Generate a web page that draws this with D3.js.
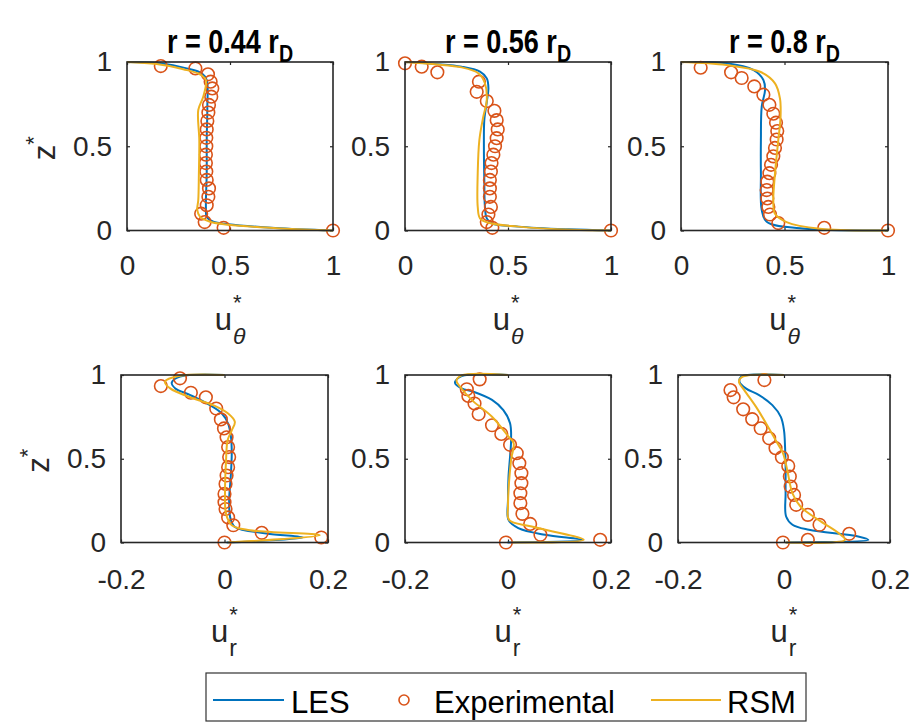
<!DOCTYPE html>
<html><head><meta charset="utf-8">
<script src="https://cdn.jsdelivr.net/npm/d3@7"></script>
<style>body{margin:0;background:#fff}svg{display:block}</style>
</head><body>
<svg id="c" width="924" height="722"></svg>
<script>
// ---------- data ----------
const radii = ["0.44", "0.56", "0.8"];
const yTicks = [0, 0.5, 1];
const xTicksTop = [0, 0.5, 1];
const xTicksBottom = [-0.2, 0, 0.2];
const seriesNames = ["LES", "Experimental", "RSM"];

// top row: u_theta* vs z*   ([u, z])
const les1 = [[0,1],[0.16,0.992],[0.29,0.962],[0.363,0.933],[0.387,0.893],[0.39,0.735],[0.387,0.537],[0.387,0.34],[0.383,0.141],[0.387,0.082],[0.419,0.052],[0.492,0.037],[0.72,0.015],[1,0]];
const exp1 = [[0.164,0.976],[0.332,0.962],[0.393,0.927],[0.406,0.883],[0.414,0.843],[0.409,0.794],[0.398,0.745],[0.395,0.70],[0.39,0.65],[0.387,0.60],[0.385,0.55],[0.385,0.50],[0.383,0.45],[0.383,0.40],[0.385,0.35],[0.387,0.30],[0.398,0.25],[0.395,0.20],[0.387,0.15],[0.36,0.10],[0.377,0.05],[0.469,0.016],[1,0]];
const rsm1 = [[0,1],[0.144,0.988],[0.273,0.957],[0.354,0.927],[0.383,0.893],[0.37,0.794],[0.346,0.715],[0.351,0.537],[0.349,0.34],[0.346,0.181],[0.341,0.122],[0.354,0.082],[0.403,0.052],[0.492,0.034],[0.75,0.012],[1,0]];

const les2 = [[0,1],[0.146,0.988],[0.275,0.972],[0.364,0.943],[0.397,0.903],[0.405,0.844],[0.397,0.764],[0.385,0.656],[0.383,0.497],[0.385,0.30],[0.388,0.141],[0.397,0.072],[0.421,0.043],[0.55,0.023],[0.793,0.007],[1,0]];
const exp2 = [[0,0.992],[0.081,0.972],[0.157,0.939],[0.359,0.883],[0.348,0.823],[0.397,0.768],[0.434,0.71],[0.445,0.655],[0.45,0.60],[0.445,0.548],[0.437,0.50],[0.429,0.45],[0.42,0.40],[0.417,0.35],[0.412,0.30],[0.412,0.25],[0.412,0.20],[0.417,0.14],[0.405,0.095],[0.397,0.05],[0.424,0.016],[1,0]];
const rsm2 = [[0,1],[0.146,0.986],[0.275,0.968],[0.356,0.933],[0.388,0.874],[0.397,0.774],[0.38,0.675],[0.361,0.537],[0.353,0.34],[0.353,0.141],[0.364,0.072],[0.405,0.046],[0.55,0.023],[0.809,0.004],[1,0]];

const les3 = [[0,1],[0.22,0.992],[0.349,0.953],[0.398,0.893],[0.406,0.834],[0.39,0.735],[0.386,0.537],[0.386,0.34],[0.39,0.122],[0.414,0.052],[0.575,0.013],[1,0]];
const exp3 = [[0.095,0.966],[0.242,0.939],[0.293,0.905],[0.354,0.855],[0.398,0.806],[0.427,0.746],[0.446,0.693],[0.459,0.64],[0.465,0.59],[0.462,0.54],[0.454,0.49],[0.446,0.44],[0.435,0.39],[0.427,0.34],[0.417,0.29],[0.414,0.24],[0.417,0.19],[0.422,0.14],[0.43,0.095],[0.47,0.044],[0.692,0.016],[1,0]];
const rsm3 = [[0,1],[0.22,0.982],[0.382,0.942],[0.454,0.873],[0.478,0.784],[0.481,0.675],[0.47,0.536],[0.454,0.337],[0.446,0.179],[0.454,0.099],[0.51,0.05],[0.671,0.01],[1,0]];

// bottom row: u_r* vs z*
const les4 = [[0,1],[-0.086,0.99],[-0.102,0.954],[-0.095,0.92],[-0.066,0.88],[-0.028,0.82],[-0.005,0.77],[0.007,0.71],[0.0125,0.63],[0.014,0.53],[0.012,0.39],[0.009,0.25],[0.011,0.15],[0.02,0.093],[0.081,0.054],[0.152,0.03],[0.004,0]];
const exp4 = [[-0.086,0.98],[-0.123,0.934],[-0.065,0.894],[-0.036,0.867],[-0.016,0.80],[-0.007,0.735],[-0.001,0.681],[0.004,0.628],[0.007,0.57],[0.009,0.51],[0.007,0.45],[0.004,0.40],[0.002,0.35],[0,0.29],[0,0.24],[0.002,0.20],[0.007,0.15],[0.017,0.103],[0.072,0.058],[0.187,0.03],[0,0]];
const rsm4 = [[0,1],[-0.086,0.995],[-0.115,0.96],[-0.105,0.92],[-0.06,0.86],[-0.022,0.82],[0.007,0.77],[0.02,0.72],[0.014,0.67],[0.006,0.61],[0.003,0.49],[0.001,0.29],[0.003,0.17],[0.014,0.103],[0.049,0.073],[0.184,0.044],[0.007,0]];

const les5 = [[0,1],[-0.09,0.994],[-0.103,0.954],[-0.09,0.92],[-0.067,0.90],[-0.031,0.851],[-0.009,0.79],[0.004,0.712],[0.006,0.612],[0.004,0.513],[0.001,0.394],[0,0.255],[0.001,0.135],[0.02,0.086],[0.072,0.046],[0.144,0.016],[-0.001,0]];
const exp5 = [[-0.055,0.974],[-0.08,0.915],[-0.077,0.875],[-0.065,0.83],[-0.057,0.767],[-0.031,0.70],[-0.013,0.648],[0.004,0.583],[0.017,0.533],[0.022,0.473],[0.026,0.414],[0.026,0.354],[0.024,0.294],[0.024,0.235],[0.028,0.171],[0.043,0.111],[0.063,0.046],[0.179,0.016],[-0.004,0]];
const rsm5 = [[0,1],[-0.09,0.998],[-0.1,0.966],[-0.093,0.93],[-0.07,0.85],[-0.031,0.751],[0.001,0.632],[0.011,0.593],[0.006,0.493],[0,0.215],[0.002,0.135],[0.046,0.095],[0.147,0.016],[0.009,0]];

const les6 = [[0,1],[-0.081,0.99],[-0.084,0.96],[-0.072,0.92],[-0.047,0.88],[-0.022,0.82],[-0.006,0.75],[0,0.67],[0.002,0.57],[0.003,0.453],[0.003,0.294],[0.004,0.155],[0.016,0.106],[0.047,0.076],[0.14,0.036],[0.159,0.016],[0.003,0]];
const exp6 = [[-0.037,0.97],[-0.101,0.91],[-0.095,0.867],[-0.077,0.795],[-0.06,0.736],[-0.044,0.682],[-0.028,0.622],[-0.016,0.563],[-0.004,0.509],[0.008,0.457],[0.011,0.394],[0.0125,0.334],[0.019,0.284],[0.023,0.225],[0.045,0.165],[0.067,0.106],[0.123,0.052],[0.045,0.016],[-0.002,0]];
const rsm6 = [[0,1],[-0.078,0.99],[-0.085,0.96],[-0.075,0.91],[-0.053,0.811],[-0.034,0.712],[-0.016,0.612],[-0.002,0.533],[0.006,0.434],[0.016,0.294],[0.031,0.215],[0.065,0.135],[0.103,0.056],[0.115,0.016],[0.003,0]];

// ---------- layout / style ----------
const C_LES = "#0072BD", C_EXP = "#D95319", C_RSM = "#EDB120", C_AX = "#262626";
const FONT = "'Liberation Sans', Arial, Helvetica, sans-serif";
const rows = [
  {y0: 62, y1: 230.5, dom: [0, 1], ticks: xTicksTop, sub: "\u03B8", subItalic: true, tickPad: 25},
  {y0: 375, y1: 542.5, dom: [-0.2, 0.2], ticks: xTicksBottom, sub: "r", subItalic: false, tickPad: 27}
];
const cols = [[[127, 333], [405, 611], [681, 888]], [[121, 328], [405, 611], [678, 890]]];
const panelData = [[[les1, exp1, rsm1], [les2, exp2, rsm2], [les3, exp3, rsm3]],
                   [[les4, exp4, rsm4], [les5, exp5, rsm5], [les6, exp6, rsm6]]];

const svg = d3.select("#c");
svg.append("rect").attr("width", 924).attr("height", 722).attr("fill", "#fff");

const fmt = d => (d === 0 ? "0" : String(d));

rows.forEach((row, ri) => {
  cols[ri].forEach((xr, ci) => {
    const x = d3.scaleLinear().domain(row.dom).range(xr);
    const y = d3.scaleLinear().domain([0, 1]).range([row.y1, row.y0]);
    const g = svg.append("g");
    const [les, exp, rsm] = panelData[ri][ci];

    // axes (ticks inward)
    const gx = g.append("g").attr("transform", `translate(0,${row.y1})`)
      .call(d3.axisBottom(x).tickValues(row.ticks).tickSize(-3).tickPadding(row.tickPad).tickFormat(fmt));
    const gxt = g.append("g").attr("transform", `translate(0,${row.y0})`)
      .call(d3.axisTop(x).tickValues(row.ticks).tickSize(-3).tickFormat(""));
    const gy = g.append("g").attr("transform", `translate(${xr[0]},0)`)
      .call(d3.axisLeft(y).tickValues(yTicks).tickSize(-3).tickPadding(15).tickFormat(fmt));
    const gyr = g.append("g").attr("transform", `translate(${xr[1]},0)`)
      .call(d3.axisRight(y).tickValues(yTicks).tickSize(-3).tickFormat(""));
    [gx, gxt, gy, gyr].forEach(a => {
      a.select(".domain").remove();
      a.selectAll(".tick line").attr("stroke", C_AX).attr("stroke-width", 1.2);
      a.selectAll(".tick text").attr("fill", C_AX).style("font-family", FONT).style("font-size", "28px");
    });

    // series
    const line = d3.line().x(d => x(d[0])).y(d => y(d[1])).curve(d3.curveCatmullRom.alpha(0.5));
    g.append("path").datum(les).attr("d", line).attr("fill", "none").attr("stroke", C_LES).attr("stroke-width", 2);
    g.selectAll("circle.e").data(exp).join("circle").attr("class", "e")
      .attr("cx", d => x(d[0])).attr("cy", d => y(d[1])).attr("r", 6.3)
      .attr("fill", "none").attr("stroke", C_EXP).attr("stroke-width", 1.6);
    g.append("path").datum(rsm).attr("d", line).attr("fill", "none").attr("stroke", C_RSM).attr("stroke-width", 2);

    // box
    g.append("rect").attr("x", xr[0]).attr("y", row.y0).attr("width", xr[1] - xr[0]).attr("height", row.y1 - row.y0)
      .attr("fill", "none").attr("stroke", C_AX).attr("stroke-width", 1.6);

    // x label  u*_sub
    const cx = (xr[0] + xr[1]) / 2;
    const lbl = g.append("g").style("font-family", FONT).attr("fill", C_AX);
    const base = row.y1 + 99.5;
    const u = lbl.append("text").attr("y", base).style("font-size", "31px").text("u");
    const st = lbl.append("text").attr("y", base - 28).attr("dy", "0.35em").style("font-size", "22px").text("*");
    const sb = lbl.append("text").attr("y", base + 14).style("font-size", "23px")
      .style("font-style", row.subItalic ? "italic" : "normal").text(row.sub);
    const uw = u.node().getComputedTextLength();
    const sw = Math.max(st.node().getComputedTextLength(), sb.node().getComputedTextLength());
    const x0 = cx - (uw + sw + 1) / 2;
    u.attr("x", x0); st.attr("x", x0 + uw + 1); sb.attr("x", x0 + uw + 1);

    // y label z*
    if (ci === 0) {
      const yl = g.append("text")
        .attr("transform", `translate(${xr[0] - 72},${(row.y0 + row.y1) / 2 + 2}) rotate(-90)`)
        .attr("text-anchor", "middle").style("font-family", FONT).attr("fill", C_AX).style("font-size", "31px");
      yl.append("tspan").text("z");
      yl.append("tspan").attr("dy", -14).style("font-size", "22px").text("*");
    }

    // title
    if (ri === 0) {
      const t = g.append("text").attr("x", cx).attr("y", 53).attr("text-anchor", "middle")
        .style("font-family", "'Liberation Sans Narrow', 'Arial Narrow', 'Liberation Sans', Arial, sans-serif")
        .style("font-weight", "bold").style("font-size", "33px").attr("fill", "#000");
      t.append("tspan").text(`r = ${radii[ci]} r`);
      t.append("tspan").attr("dy", 9).style("font-size", "24px").text("D");
      // if no narrow face is installed, compress horizontally
      const probe = svg.append("text").style("font-family", "'Liberation Sans', Arial").style("font-weight", "bold")
        .style("font-size", "33px").text(`r = ${radii[ci]} r`);
      const wReg = probe.node().getComputedTextLength();
      probe.remove();
      const wNow = t.select("tspan").node().getComputedTextLength();
      if (wNow > 0.92 * wReg) {
        t.attr("transform", `translate(${cx},0) scale(0.82,1) translate(${-cx},0)`);
      }
    }
  });
});

// ---------- legend ----------
const lg = svg.append("g");
lg.append("rect").attr("x", 206).attr("y", 673).attr("width", 600).attr("height", 48)
  .attr("fill", "#fff").attr("stroke", "#333").attr("stroke-width", 1.2);
const ly = 700;
lg.append("line").attr("x1", 213).attr("x2", 284).attr("y1", ly).attr("y2", ly).attr("stroke", C_LES).attr("stroke-width", 2);
lg.append("circle").attr("cx", 404).attr("cy", ly).attr("r", 5).attr("fill", "none").attr("stroke", C_EXP).attr("stroke-width", 1.6);
lg.append("line").attr("x1", 651).attr("x2", 721).attr("y1", ly).attr("y2", ly).attr("stroke", C_RSM).attr("stroke-width", 2);
const ltx = [291, 434, 727];
seriesNames.forEach((n, i) => {
  lg.append("text").attr("x", ltx[i]).attr("y", 713).style("font-family", FONT).style("font-size", "31px")
    .attr("fill", "#000").text(n);
});
</script>
</body></html>
